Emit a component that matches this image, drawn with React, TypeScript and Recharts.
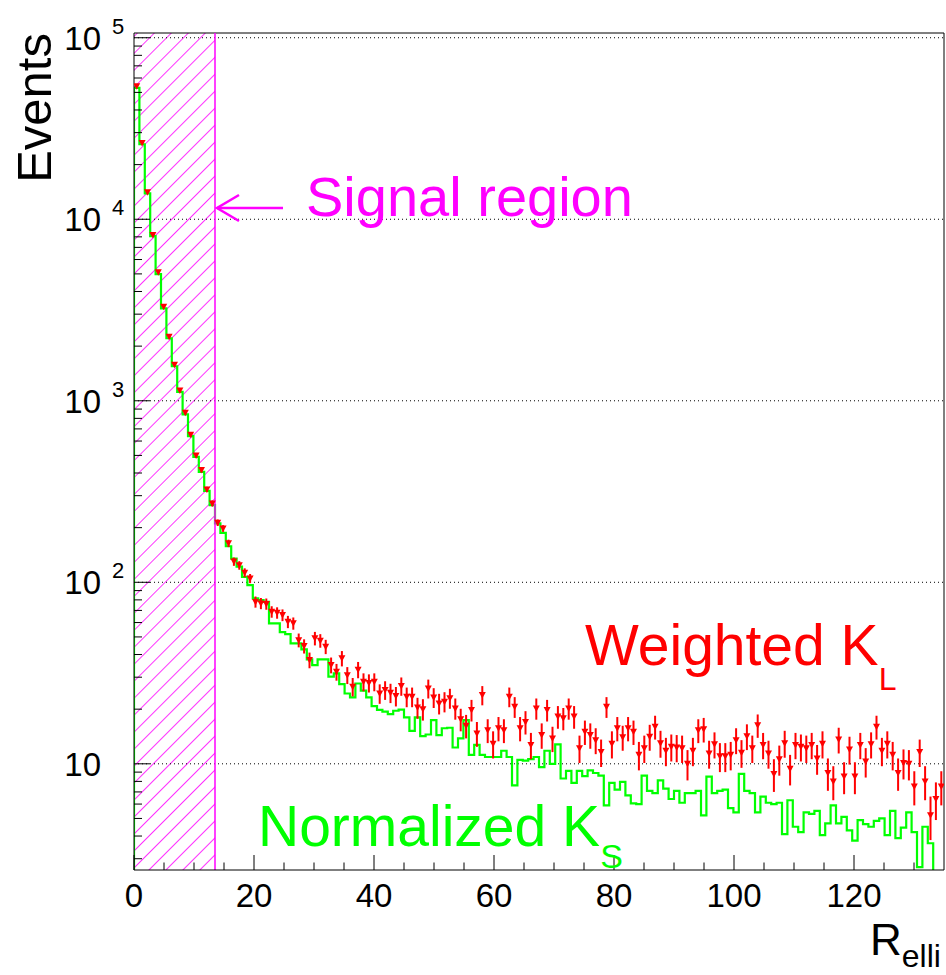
import React from 'react';
import { ComposedChart, Line, Scatter, ErrorBar, XAxis, YAxis, ReferenceLine, ReferenceArea } from 'recharts';

const FONT = '"Liberation Sans", Arial, Helvetica, sans-serif';
const BIN_WIDTH = 0.9;
const X_MAX = 135;
const SIGNAL_CUT = 13.5;
const Y_MIN = 2.6;
const Y_MAX = 1.062e5;

// Normalized K_S histogram, 150 bins of 0.9 (0 = empty bin, below the axis)
const ksNormalized = [
  53000, 25900, 13900, 8080, 4990, 3230, 2210, 1550, 1120, 841,
  639, 491, 406, 319, 266, 211, 187, 158, 135, 122,
  107, 96.5, 81.5, 79.8, 78.1, 59.4, 59.4, 53.2, 51.8, 46.1,
  46.1, 42.7, 37.6, 35.0, 37.6, 37.6, 30.2, 31.5, 27.5, 24.4,
  23.2, 27.7, 25.3, 23.2, 20.8, 19.8, 19.4, 18.8, 19.6, 19.9,
  18.0, 15.2, 18.0, 14.2, 14.5, 17.4, 14.4, 15.7, 15.8, 12.3,
  13.8, 17.4, 11.2, 12.7, 11.2, 10.9, 10.9, 10.9, 11.8, 10.9,
  7.6, 10.5, 10.4, 10.6, 10.9, 9.6, 11.8, 10.0, 12.8, 8.3,
  9.15, 7.86, 9.15, 8.55, 9.2, 8.9, 8.6, 5.9, 7.86, 7.2,
  7.96, 6.7, 6.05, 6.0, 8.6, 7.1, 6.9, 8.1, 7.3, 6.4,
  7.1, 6.1, 6.9, 6.9, 7.1, 5.2, 8.5, 6.9, 7.1, 7.2,
  5.7, 5.4, 8.8, 7.1, 6.9, 5.4, 6.6, 6.1, 6.0, 6.1,
  4.1, 6.3, 4.5, 4.2, 5.4, 5.3, 5.5, 4.05, 4.7, 5.9,
  4.7, 5.1, 4.3, 3.77, 4.9, 4.65, 4.5, 4.85, 5.0, 4.05,
  5.5, 3.9, 4.45, 5.4, 4.2, 2.7, 4.5, 3.65, 0, 0,
];

// Weighted K_L points, same binning
const klWeighted = [
  54000, 26300, 14100, 8200, 5100, 3300, 2250, 1580, 1140, 860,
  650, 500, 415, 325, 272, 213, 198, 164, 130, 124,
  113, 105, 78, 76.5, 76, 68.8, 67.9, 66, 60.6, 59.4,
  48, 44.5, 37.3, 49.1, 47.7, 44.2, 35, 32.1, 38.1, 30.8,
  26.6, 33, 28.3, 27.9, 28.3, 24.4, 25.5, 24.6, 23.6, 26.8,
  23.4, 23.4, 20.4, 20, 26, 23.2, 21.5, 22, 23, 20.2,
  17.6, 16.2, 19.8, 14.7, 23.9, 15.3, 12.9, 15.7, 15.3, 23.4,
  20.6, 15.7, 17, 12.7, 20.2, 14.4, 19.8, 13.8, 18.2, 17.8,
  20.2, 18.2, 12.2, 15, 14.4, 13.5, 11.6, 20.6, 12.9, 15.7,
  14, 15.7, 15, 11.2, 12.2, 14.1, 16, 13, 11.8, 12.4,
  12.3, 12.2, 10, 11.8, 15.3, 15.5, 11.4, 12.8, 11, 11,
  11.2, 13.5, 11.5, 14.2, 12.2, 16.3, 12.7, 11.4, 8.8, 10.6,
  13, 9.4, 12.7, 12.4, 12.2, 12.7, 10.7, 12.9, 8.9, 8,
  13.6, 8.5, 12, 8.5, 12.7, 10.3, 12.8, 16, 11.8, 12.9,
  11.2, 8.9, 10.1, 10, 7.5, 11.6, 8, 5.2, 6.4, 7.5,
];

const klError = [
  139, 97, 71, 54, 43, 34, 28, 24, 20, 18,
  15, 13, 12, 11, 10, 8.8, 8.4, 7.7, 6.8, 6.7,
  6.4, 6.1, 5.5, 5.4, 5.4, 5.0, 4.9, 4.9, 4.7, 4.6,
  4.2, 4.0, 3.7, 4.2, 4.1, 4.0, 3.5, 3.4, 3.7, 3.3,
  3.1, 3.4, 3.2, 3.2, 3.2, 3.0, 3.0, 3.0, 2.9, 3.1,
  2.9, 2.9, 2.7, 2.7, 3.1, 2.9, 2.8, 2.8, 2.9, 2.7,
  2.5, 2.4, 2.7, 2.3, 2.9, 2.3, 2.2, 2.4, 2.3, 2.9,
  2.7, 2.4, 2.5, 2.1, 2.7, 2.3, 2.7, 2.2, 2.6, 2.5,
  2.7, 2.6, 2.1, 2.3, 2.3, 2.2, 2.0, 2.7, 2.2, 2.4,
  2.2, 2.4, 2.3, 2.0, 2.1, 2.3, 2.4, 2.2, 2.1, 2.1,
  2.1, 2.1, 1.9, 2.1, 2.3, 2.4, 2.0, 2.1, 2.0, 2.0,
  2.0, 2.2, 2.0, 2.3, 2.1, 2.4, 2.1, 2.0, 1.8, 2.0,
  2.2, 1.8, 2.1, 2.1, 2.1, 2.1, 2.0, 2.2, 1.8, 1.7,
  2.2, 1.7, 2.1, 1.7, 2.1, 1.9, 2.1, 2.4, 2.1, 2.2,
  2.0, 1.8, 1.9, 1.9, 1.6, 2.0, 1.7, 1.4, 1.5, 1.6,
];

const xTicks = [0, 5, 10, 15, 20, 25, 30, 35, 40, 45, 50, 55, 60, 65, 70, 75, 80, 85, 90, 95, 100, 105, 110, 115, 120, 125, 130];
const yDecades = [10, 100, 1000, 10000, 100000];
const yTicks = [
  3, 4, 5, 6, 7, 8, 9,
  10, 20, 30, 40, 50, 60, 70, 80, 90,
  100, 200, 300, 400, 500, 600, 700, 800, 900,
  1000, 2000, 3000, 4000, 5000, 6000, 7000, 8000, 9000,
  10000, 20000, 30000, 40000, 50000, 60000, 70000, 80000, 90000,
  100000,
];

// empty bins get pushed below the log axis so the step falls off the frame
const BELOW = Y_MIN / 4;
const ksRows = [
  { x: 0, g: BELOW },
  ...ksNormalized.map((v, i) => ({ x: i * BIN_WIDTH, g: v > 0 ? v : BELOW })),
  { x: X_MAX, g: BELOW },
];
const klRows = klWeighted.map((v, i) => ({ x: (i + 0.5) * BIN_WIDTH, r: v, err: klError[i] }));

function XTick(props: any) {
  const { x, y, payload } = props;
  const v = payload.value;
  const major = v % 20 === 0;
  return (
    <g>
      <line x1={x} x2={x} y1={y} y2={y - (major ? 15 : 7.5)} stroke="#000" strokeWidth={1} />
      {major && (
        <text x={x} y={y + 37} textAnchor="middle" fontSize={33} fontFamily={FONT} fill="#000">{v}</text>
      )}
    </g>
  );
}

function YTick(props: any) {
  const { x, y, payload } = props;
  const v = payload.value;
  const p = Math.round(Math.log10(v));
  const major = Math.abs(Math.log10(v) - p) < 1e-6;
  return (
    <g>
      <line x1={x} x2={x + (major ? 16 : 8)} y1={y} y2={y} stroke="#000" strokeWidth={1} />
      {major && (
        <text x={x - 33} y={y + 12} textAnchor="end" fontSize={33} fontFamily={FONT} fill="#000">10</text>
      )}
      {major && p > 1 && (
        <text x={x - 22} y={y - 4} textAnchor="start" fontSize={22} fontFamily={FONT} fill="#000">{p}</text>
      )}
    </g>
  );
}

const triangle = (props: any) => {
  const { cx, cy } = props;
  return <polygon points={`${cx - 3.5},${cy - 3} ${cx + 3.5},${cy - 3} ${cx},${cy + 3.5}`} fill="#ff0000" />;
};

export default function App() {
  return (
    <div style={{ position: 'absolute', left: 0, top: 0, width: 946, height: 975, background: '#fff' }}>
      <svg width={1} height={1} style={{ position: 'absolute', left: 0, top: 0 }}>
        <defs>
          <pattern
            id="signalHatch"
            patternUnits="userSpaceOnUse"
            width={12}
            height={12}
            patternTransform="rotate(45)"
          >
            <line x1={0} y1={0} x2={0} y2={12} stroke="#ff00ff" strokeWidth={1.6} fill="none" />
          </pattern>
        </defs>
      </svg>
      <ComposedChart width={946} height={975} data={ksRows} margin={{ top: 33, right: 2, bottom: 0, left: 0 }}>
        <XAxis
          type="number"
          dataKey="x"
          domain={[0, X_MAX]}
          allowDataOverflow
          ticks={xTicks}
          interval={0}
          height={105}
          tickSize={0}
          tickMargin={0}
          tickLine={false}
          axisLine={{ stroke: '#000' }}
          tick={(p: any) => <XTick {...p} />}
        />
        <YAxis
          type="number"
          scale="log"
          domain={[Y_MIN, Y_MAX]}
          allowDataOverflow
          ticks={yTicks}
          interval={0}
          width={134}
          tickSize={0}
          tickMargin={0}
          tickLine={false}
          axisLine={{ stroke: '#000' }}
          tick={(p: any) => <YTick {...p} />}
        />
        <ReferenceArea x1={0} x2={SIGNAL_CUT} fill="url(#signalHatch)" fillOpacity={1} stroke="none" />
        {yDecades.map((v) => (
          <ReferenceLine key={v} y={v} stroke="#000" strokeDasharray="1 3" strokeWidth={1} />
        ))}
        <ReferenceLine y={Y_MAX} stroke="#000" strokeWidth={1} />
        <ReferenceLine x={X_MAX} stroke="#000" strokeWidth={1} />
        <Line
          dataKey="g"
          type="stepAfter"
          stroke="#00ff00"
          strokeWidth={2.2}
          dot={false}
          activeDot={false}
          isAnimationActive={false}
        />
        <Scatter data={klRows} dataKey="r" fill="#ff0000" shape={triangle} isAnimationActive={false}>
          <ErrorBar dataKey="err" direction="y" width={0} stroke="#ff0000" strokeWidth={2} />
        </Scatter>
        <ReferenceLine x={SIGNAL_CUT} stroke="#ff00ff" strokeWidth={1.5} />
      </ComposedChart>
      <svg
        width={946}
        height={975}
        style={{ position: 'absolute', left: 0, top: 0, pointerEvents: 'none' }}
        fontFamily={FONT}
      >
        <text x={51} y={33} transform="rotate(-90 51 33)" textAnchor="end" fontSize={49} fill="#000">Events</text>
        <line x1={217} y1={208} x2={283} y2={208} stroke="#ff00ff" strokeWidth={2.5} />
        <polyline points="239,195 217,208 239,221" fill="none" stroke="#ff00ff" strokeWidth={2.5} />
        <text x={306} y={216} fontSize={56} fill="#ff00ff">Signal region</text>
        <text x={585} y={665} fontSize={57} fill="#ff0000">
          Weighted K<tspan fontSize={32} dy={25}>L</tspan>
        </text>
        <text x={258} y={846} fontSize={57} fill="#00ff00">
          Normalized K<tspan fontSize={34} dy={22}>S</tspan>
        </text>
        <text x={870} y={955} fontSize={44} fill="#000">
          R<tspan fontSize={32} dy={12}>elli</tspan>
        </text>
      </svg>
    </div>
  );
}
